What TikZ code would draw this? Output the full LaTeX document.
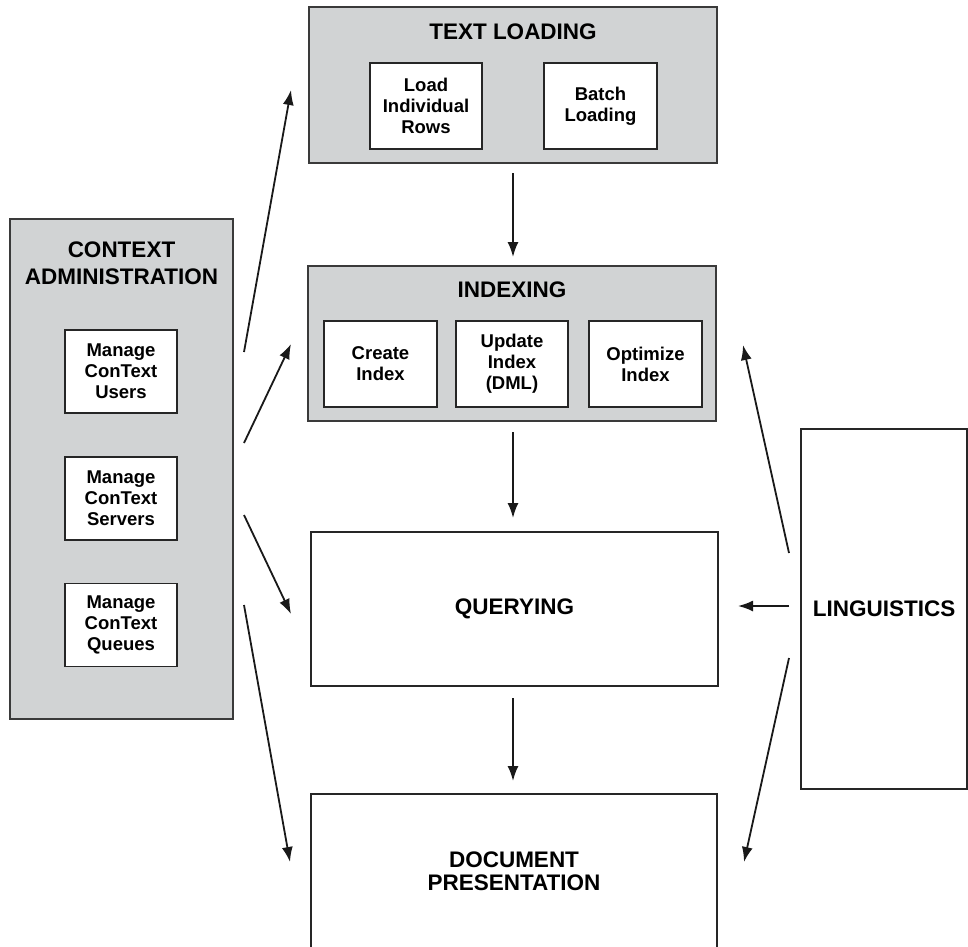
\documentclass[tikz,border=0pt]{standalone}
\usepackage{fontspec}
\setmainfont{Liberation Sans}
\usetikzlibrary{arrows.meta}
\definecolor{panelgray}{HTML}{D1D3D4}
\definecolor{edgegray}{HTML}{3A3A3A}
\newcommand\mytitlefont{\bfseries\fontsize{22.5}{26}\selectfont}
\newcommand\myinnerfont{\bfseries\fontsize{18.5}{21}\selectfont}
\begin{document}
\begin{tikzpicture}[x=1pt,y=-1pt,
  panel/.style={draw=edgegray, line width=1.8pt, fill=panelgray, inner sep=0pt},
  inbox/.style={draw=black!85, line width=1.6pt, fill=white, align=center, inner sep=0pt, font=\myinnerfont, minimum width=112pt, minimum height=86pt},
  bigbox/.style={draw=black!85, line width=1.6pt, fill=white, align=center, inner sep=0pt, font=\mytitlefont},
  ttlnode/.style={align=center, inner sep=0pt, font=\mytitlefont},
  arr/.style={line width=1.8pt, black!90, -{Latex[length=15pt,width=11pt]}}
]
\path[use as bounding box, fill=white] (0,0) rectangle (968,946);

% Text loading
\node[panel, minimum width=408pt, minimum height=156pt] (tl) at (513,85) {};
\node[ttlnode] (tlt) at (513,32) {TEXT LOADING};
\node[inbox] (lir) at (426,106) {Load\\Individual\\Rows};
\node[inbox, minimum width=113pt] (bat) at (600.5,106) {Batch\\Loading};

% Indexing
\node[panel, minimum width=408pt, minimum height=155pt] (ix) at (512,343.5) {};
\node[ttlnode] (ixt) at (512,290) {INDEXING};
\node[inbox, minimum width=113pt] (cre) at (380.5,364) {Create\\Index};
\node[inbox] (upd) at (512,364) {Update\\Index\\(DML)};
\node[inbox, minimum width=113pt] (opt) at (645.5,364) {Optimize\\Index};

% Querying and document presentation
\node[bigbox, minimum width=407pt, minimum height=154pt] (qu) at (514.5,609) {QUERYING};
\node[bigbox, minimum width=406pt, minimum height=154pt, font=\bfseries\fontsize{22.5}{23.5}\selectfont] (dp) at (514,871) {DOCUMENT\\PRESENTATION};

% Context administration
\node[panel, minimum width=223pt, minimum height=500pt] (ad) at (121.5,469) {};
\node[ttlnode, font=\bfseries\fontsize{22.5}{27}\selectfont] (adt) at (121.5,263.5) {CONTEXT\\ADMINISTRATION};
\node[inbox, minimum height=83pt] (usr) at (121,371.5) {Manage\\ConText\\Users};
\node[inbox, minimum height=83pt] (srv) at (121,498.5) {Manage\\ConText\\Servers};
\node[inbox, minimum height=83pt] (que) at (121,625) {Manage\\ConText\\Queues};

% Linguistics
\node[bigbox, minimum width=166pt, minimum height=360pt] (li) at (884,609) {LINGUISTICS};

% arrow end points
\coordinate (a1s) at (244,352); \coordinate (a1e) at (291,90);
\coordinate (a2s) at (244,443); \coordinate (a2e) at (291,344);
\coordinate (a3s) at (244,515); \coordinate (a3e) at (291,614);
\coordinate (a4s) at (244,605); \coordinate (a4e) at (290,862);
\coordinate (v1s) at (513,173); \coordinate (v1e) at (513,257);
\coordinate (v2s) at (513,432); \coordinate (v2e) at (513,518);
\coordinate (v3s) at (513,698); \coordinate (v3e) at (513,781);
\coordinate (l1s) at (789,553); \coordinate (l1e) at (743,345);
\coordinate (l2s) at (789,606); \coordinate (l2e) at (738,606);
\coordinate (l3s) at (789,658); \coordinate (l3e) at (744,862);

\draw[arr] (a1s) -- (a1e);
\draw[arr] (a2s) -- (a2e);
\draw[arr] (a3s) -- (a3e);
\draw[arr] (a4s) -- (a4e);
\draw[arr] (v1s) -- (v1e);
\draw[arr] (v2s) -- (v2e);
\draw[arr] (v3s) -- (v3e);
\draw[arr] (l1s) -- (l1e);
\draw[arr] (l2s) -- (l2e);
\draw[arr] (l3s) -- (l3e);
\end{tikzpicture}
\end{document}
